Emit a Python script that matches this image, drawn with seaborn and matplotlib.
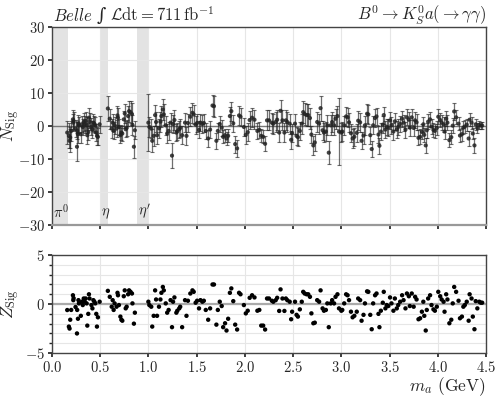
import numpy as np
import pandas as pd
import seaborn as sns
import matplotlib
matplotlib.use("Agg")
from matplotlib import pyplot as plt
from matplotlib.ticker import MultipleLocator
from matplotlib.offsetbox import TextArea, HPacker, AnchoredOffsetbox

# ---- data ----
mass = [
    0.159, 0.176, 0.183, 0.19, 0.2, 0.218, 0.222, 0.225, 0.245, 0.26,
    0.262, 0.27, 0.275, 0.28, 0.3, 0.31, 0.32, 0.33, 0.34, 0.35,
    0.36, 0.367, 0.377, 0.384, 0.39, 0.41, 0.42, 0.43, 0.44, 0.45,
    0.46, 0.467, 0.477, 0.495,
    0.58, 0.6, 0.62, 0.63, 0.64, 0.65, 0.67, 0.68, 0.685, 0.695,
    0.71, 0.72, 0.73, 0.745, 0.755, 0.765, 0.775, 0.79, 0.8, 0.815,
    0.83, 0.835, 0.85, 0.86,
    1.0, 1.01, 1.03, 1.04, 1.055, 1.07, 1.08, 1.09, 1.11, 1.125,
    1.135, 1.15, 1.16, 1.18, 1.195, 1.21, 1.23, 1.245, 1.256, 1.27,
    1.29, 1.3, 1.32, 1.33, 1.35, 1.38, 1.395, 1.41, 1.435, 1.457,
    1.47, 1.49, 1.505, 1.525, 1.54, 1.56, 1.575, 1.595, 1.62, 1.64,
    1.665, 1.68, 1.705, 1.72, 1.74, 1.76, 1.775, 1.795, 1.81, 1.827,
    1.845, 1.86, 1.88, 1.9, 1.92, 1.94, 1.955,
    1.99, 2.01, 2.03, 2.05, 2.075, 2.1, 2.13, 2.15, 2.17, 2.19,
    2.21, 2.23, 2.25, 2.28, 2.295, 2.32, 2.335, 2.356, 2.37, 2.39,
    2.41, 2.425, 2.44, 2.465, 2.48, 2.49, 2.52, 2.536, 2.55, 2.57,
    2.59, 2.605, 2.62, 2.64, 2.657, 2.675, 2.69, 2.71, 2.725, 2.75,
    2.77, 2.785, 2.806, 2.82, 2.84, 2.855, 2.87, 2.89, 2.905, 2.925,
    2.94, 2.96, 2.976, 3.0, 3.01, 3.03, 3.05, 3.065, 3.08, 3.1,
    3.117, 3.135, 3.16, 3.175, 3.195, 3.21, 3.23, 3.245, 3.267, 3.28,
    3.3, 3.315, 3.33, 3.35, 3.365, 3.385, 3.395, 3.41, 3.43, 3.44,
    3.457, 3.47, 3.487, 3.505, 3.52, 3.54, 3.555, 3.575, 3.59, 3.61,
    3.63, 3.645, 3.665, 3.68, 3.7, 3.71, 3.73, 3.75, 3.765, 3.78,
    3.8, 3.817, 3.835, 3.85, 3.86, 3.875, 3.886, 3.9, 3.92, 3.935,
    3.955, 3.97, 3.99, 4.005, 4.025, 4.04, 4.06, 4.07, 4.087, 4.1,
    4.12, 4.14, 4.155, 4.17, 4.19, 4.215, 4.23, 4.25, 4.265, 4.28,
    4.3, 4.32, 4.33, 4.35, 4.363, 4.38, 4.393, 4.41, 4.43, 4.445,
    4.46,
]

n_sig = [
    -2.0, -3.0, -4.5, -3.5, -1.5, 2.0, 1.0, 1.5, -0.8, -6.3,
    -1.5, -2.5, 0.8, 0.2, -2.5, 0.5, -0.3, 1.2, 0.5, 1.5,
    0.2, -2.8, -1.8, 2.5, 1.3, -0.2, -1.0, 1.0, 0.6, 0.2,
    -2.0, -3.0, -3.3, 0.5,
    5.3, 2.2, -0.8, 1.0, -1.5, 0.2, -0.8, 3.2, 2.5, -0.3,
    -2.8, -2.0, -2.3, 2.0, 3.8, -1.0, -0.6, 3.0, 4.5, 4.2,
    3.6, 0.3, -6.3, -1.3,
    1.0, -0.3, -0.8, -4.5, -3.0, 3.3, 1.2, -2.8, -0.7, 1.3,
    3.0, 5.0, 3.5, 0.2, -2.3, -1.5, 1.0, -9.0, 0.6, 1.8,
    -2.0, -1.6, -1.0, -0.6, -2.8, 1.0, -3.0, 0.9, 2.8, 4.0,
    3.5, 0.4, 0.9, -1.2, 1.0, 0.6, 0.9, -1.5, -3.8, -1.1,
    6.2, 6.0, -4.5, -1.5, 0.6, -0.5, -3.3, -2.8, -3.8, -3.0,
    3.0, 4.5, 0.8, -5.5, -6.8, 3.2, 2.8,
    -0.3, -2.7, -1.9, 1.8, 2.5, 1.9, -1.5, -1.2, -3.0, -3.3,
    -5.4, 1.7, 1.7, 1.0, 0.7, 1.2, 1.9, -2.0, 4.6, 1.7,
    -2.0, 1.7, 1.2, 0.7, -4.2, -2.2, 0.7, -3.0, -3.4, -1.5,
    0.7, 4.2, 3.6, 3.3, 3.3, 2.4, -2.6, -5.9, -5.0, 1.2,
    0.7, 5.4, -1.3, -2.0, -1.7, 0.2, -8.1, 0.2, 1.2, 0.2,
    2.2, 3.0, -1.7, -2.0, -1.7, 0.2, 2.9, 2.6, 1.1, -2.2,
    -3.8, -3.3, -2.1, 1.6, 1.1, -4.5, -2.9, 0.2, 3.7, 3.5,
    -2.8, -7.0, 0.2, 2.4, 2.9, -2.6, -6.0, -1.7, 0.4, 3.3,
    -1.1, -0.3, -0.5, 1.7, 0.2, -1.7, 1.4, -1.1, -0.3, 0.6,
    2.2, 1.0, -1.1, 2.6, 1.9, -0.5, 2.6, -0.6, 1.7, 1.1,
    -3.6, -3.3, -1.8, 0.5, -2.7, -5.9, -1.3, 1.3, 2.0, -0.2,
    -1.2, -1.5, -0.6, 2.8, 1.8, 1.0, 0.5, -1.7, 2.2, 1.0,
    -4.3, -3.4, 0.1, 4.4, 2.6, 0.7, -2.9, -2.5, -0.5, -0.2,
    0.4, -3.8, 1.9, 1.0, -2.3, -5.9, 0.5, -0.6, 0.3, 0.15,
    0.12,
]

n_err = [
    3.5, 3.8, 3.5, 3.2, 3.0, 2.8, 2.6, 2.8, 2.5, 4.2,
    2.6, 2.8, 2.5, 2.4, 2.6, 2.4, 2.5, 2.6, 2.5, 2.6,
    2.4, 2.8, 2.6, 3.0, 2.6, 2.5, 2.6, 2.5, 2.4, 2.4,
    2.5, 2.8, 2.6, 2.5,
    3.9, 3.0, 2.8, 2.6, 2.6, 2.5, 2.6, 2.8, 2.8, 2.5,
    2.3, 2.2, 2.2, 2.6, 2.8, 2.4, 2.4, 3.0, 3.2, 3.3,
    3.3, 3.0, 3.3, 2.8,
    8.7, 3.0, 3.0, 3.5, 3.0, 3.2, 3.0, 2.8, 2.8, 3.0,
    3.2, 3.3, 3.3, 2.8, 2.8, 2.8, 2.8, 3.9, 2.8, 3.0,
    2.6, 2.6, 2.6, 2.6, 2.8, 2.8, 2.8, 2.8, 2.9, 3.1,
    3.0, 2.7, 2.7, 2.6, 2.6, 2.6, 2.6, 2.5, 2.5, 2.5,
    3.2, 3.2, 2.4, 2.4, 2.5, 2.4, 2.0, 2.0, 1.9, 2.0,
    2.7, 2.9, 2.6, 2.6, 2.6, 2.8, 2.8,
    2.8, 2.8, 2.8, 2.8, 2.8, 2.8, 2.5, 2.5, 2.0, 2.0,
    2.3, 3.0, 3.0, 3.0, 3.0, 3.0, 3.0, 2.8, 3.4, 3.0,
    2.8, 3.0, 3.0, 3.0, 2.7, 2.8, 3.0, 2.7, 2.7, 2.8,
    3.0, 3.4, 3.3, 3.3, 3.3, 3.2, 2.7, 3.0, 2.6, 3.0,
    3.0, 3.8, 2.9, 2.9, 2.9, 3.0, 3.5, 3.0, 3.0, 3.0,
    3.0, 3.0, 10.1, 2.9, 2.9, 2.9, 2.9, 2.9, 2.9, 2.8,
    2.8, 2.8, 2.7, 2.8, 2.8, 2.6, 2.6, 2.8, 2.9, 2.8,
    2.6, 2.5, 2.7, 2.7, 2.7, 2.6, 2.5, 2.5, 2.6, 2.6,
    2.5, 2.5, 2.5, 2.5, 2.5, 2.5, 2.5, 2.5, 2.5, 2.5,
    2.4, 2.4, 2.4, 2.4, 2.4, 2.4, 2.4, 2.4, 2.4, 2.4,
    2.3, 2.3, 2.3, 2.2, 2.2, 2.2, 2.2, 2.2, 2.2, 2.2,
    2.2, 2.2, 2.2, 2.2, 2.2, 2.2, 2.2, 2.2, 2.2, 2.2,
    2.2, 2.1, 2.2, 2.5, 2.1, 2.0, 2.0, 2.0, 1.9, 1.9,
    1.8, 2.2, 1.9, 1.8, 1.8, 2.3, 1.6, 1.4, 1.2, 1.1,
    1.0,
]

z_sig = [
    -0.61, -2.3, -2.5, -1.6, -0.6, 0.9, 0.4, 0.6, -0.3, -3.0,
    -0.6, -1.5, 0.4, 0.07, -1.2, 0.24, -0.1, 0.57, 0.24, 0.57,
    0.07, -2.2, -1.0, 1.0, 0.57, -0.1, -0.44, 0.4, 0.24, 0.07,
    -1.0, -2.3, -1.35, 0.24,
    1.35, 0.74, -0.27, 0.4, -0.6, 0.07, -0.27, 1.15, 0.9, -0.1,
    -1.28, -1.6, -1.7, 0.8, 1.4, -0.44, -0.27, 1.0, 1.4, 1.25,
    1.08, 0.07, -2.0, -0.88,
    0.24, -0.1, -0.27, -2.3, -1.2, 1.4, 0.47, -1.2, -0.27, 0.47,
    1.15, 1.75, 1.4, 0.07, -0.88, -0.6, 0.4, -2.36, 0.24, 0.68,
    -0.88, -0.68, -0.44, -0.27, -2.36, 0.4, -1.2, 0.34, 1.08, 1.4,
    1.25, 0.14, 0.34, -0.44, 0.4, 0.24, 0.34, -0.6, -1.6, -0.44,
    2.0, 2.0, -2.1, -0.6, 0.24, -0.2, -2.36, -1.96, -2.7, -1.5,
    1.15, 1.6, 0.3, -2.1, -2.6, 1.15, 1.0,
    -0.1, -0.95, -0.68, 0.64, 0.9, 0.68, -0.68, -0.6, -2.2, -2.2,
    -2.6, 0.57, 0.57, 0.34, 0.24, 0.4, 0.64, -0.7, 1.5, 0.57,
    -0.7, 0.57, 0.4, 0.24, -1.55, -0.78, 0.24, -1.1, -1.28, -0.54,
    0.24, 1.25, 1.08, 1.0, 1.0, 0.74, -0.95, -1.96, -1.9, 0.4,
    0.24, 1.4, -0.44, -0.68, -0.6, 0.07, -2.36, 0.07, 0.4, 0.07,
    0.74, 1.0, -0.44, -0.68, -0.6, 0.07, 1.0, 0.9, 0.4, -0.78,
    -1.35, -1.2, -0.78, 0.57, 0.4, -1.7, -1.1, 0.07, 1.3, 1.25,
    -1.1, -2.57, 0.07, 0.9, 1.08, -1.0, -2.36, -0.68, 0.14, 1.25,
    -0.44, -0.1, -0.2, 0.68, 0.07, -0.68, 0.57, -0.44, -0.1, 0.24,
    0.9, 0.4, -0.44, 1.08, 0.8, -0.2, 1.08, -0.27, 0.74, 0.47,
    -1.55, -1.45, -0.78, 0.24, -1.2, -2.7, -0.6, 0.57, 0.9, -0.1,
    -0.54, -0.68, -0.27, 1.25, 0.8, 0.47, 0.24, -0.78, 1.0, 0.47,
    -1.96, -1.6, 0.07, 1.75, 1.25, 0.34, -1.45, -1.28, -0.27, -0.1,
    0.24, -1.7, 1.0, 0.57, -1.28, -2.57, 0.3, -0.44, 0.24, 0.14,
    0.14,
]

# vetoed peaking-background regions (GeV) and their labels
veto_lo = [0.0, 0.5, 0.88]
veto_hi = [0.163, 0.583, 1.0]
veto_labels = [r"$\pi^0$", r"$\eta$", r"$\eta'$"]

df = pd.DataFrame({"m": mass, "N": n_sig, "err": n_err, "Z": z_sig})

# ---- style ----
sns.set_theme(style="ticks")
plt.rcParams["font.family"] = "serif"
plt.rcParams["font.serif"] = ["cmr10", "DejaVu Serif"]
plt.rcParams["mathtext.fontset"] = "cm"
plt.rcParams["axes.formatter.use_mathtext"] = True
plt.rcParams["axes.unicode_minus"] = True

fig = plt.figure(figsize=(4.99, 3.98), dpi=100)
ax1 = fig.add_axes([0.104, 0.435, 0.870, 0.497])
ax2 = fig.add_axes([0.104, 0.113, 0.870, 0.246])

spine_col = "#444444"
grid_col = "#e6e6e6"

# top panel: fitted signal yield
for lo, hi, lab in zip(veto_lo, veto_hi, veto_labels):
    ax1.axvspan(lo, hi, color="#e3e3e3", lw=0, zorder=0)
    ax1.text(lo + 0.01, -28.8, lab, fontsize=10.5, ha="left", va="bottom")
ax1.axhline(0, color="#777777", lw=1.0, zorder=1)
ax1.errorbar(df["m"], df["N"], yerr=df["err"], fmt="none",
             ecolor="#222222", elinewidth=0.9, capsize=1.6, capthick=0.8,
             alpha=0.65, zorder=2)
sns.scatterplot(data=df, x="m", y="N", ax=ax1, color="#222222", s=9,
                marker="o", edgecolor="none", alpha=0.85, zorder=3, legend=False)
ax1.set_xlim(0, 4.5)
ax1.set_ylim(-30, 30)
ax1.xaxis.set_major_locator(MultipleLocator(0.5))
ax1.yaxis.set_major_locator(MultipleLocator(10))
ax1.tick_params(axis="x", labelbottom=False, length=3)
ax1.tick_params(axis="y", labelsize=10.5, length=3, pad=2)
ax1.grid(True, color=grid_col, lw=0.8, zorder=0)
ax1.set_axisbelow(True)
ax1.set_xlabel("")
ax1.set_ylabel(r"$N_{\rm Sig}$", fontsize=12.5)
ax1.yaxis.set_label_coords(-0.07, 0.5)
for sp in ax1.spines.values():
    sp.set_color(spine_col)
    sp.set_linewidth(1.0)
ax1.spines["bottom"].set_color("#999999")
ax1.spines["bottom"].set_linewidth(1.6)

# experiment label, built from pieces so the integral sign keeps text size
parts = [
    TextArea(r"$\mathit{Belle}$", textprops=dict(fontsize=12)),
    TextArea("∫", textprops=dict(fontsize=13, family="DejaVu Serif",
                                 fontstyle="italic")),
    TextArea(r"$\mathcal{L}\mathrm{dt} = 711\,\mathrm{fb}^{-1}$",
             textprops=dict(fontsize=12)),
]
label_box = HPacker(children=parts, align="baseline", pad=0, sep=3)
anchored = AnchoredOffsetbox(loc="lower left", child=label_box, pad=0,
                             borderpad=0, frameon=False,
                             bbox_to_anchor=(0.106, 1 - 25 / 398),
                             bbox_transform=fig.transFigure)
fig.add_artist(anchored)
fig.text(0.974, 1 - 20 / 398, r"$B^0\to K_S^0 a(\to\gamma\gamma)$",
         fontsize=12, ha="right", va="baseline")

# bottom panel: local significance
ax2.axhline(0, color="#aaaaaa", lw=1.6, zorder=1)
sns.scatterplot(data=df, x="m", y="Z", ax=ax2, color="black", s=10,
                edgecolor="none", zorder=3, legend=False)
ax2.set_xlim(0, 4.5)
ax2.set_ylim(-5, 5)
ax2.xaxis.set_major_locator(MultipleLocator(0.5))
ax2.yaxis.set_major_locator(MultipleLocator(5))
ax2.yaxis.set_minor_locator(MultipleLocator(1))
ax2.tick_params(axis="both", which="major", labelsize=10.5, length=3, pad=2)
ax2.tick_params(axis="y", which="minor", length=2, left=True)
ax2.grid(True, which="major", axis="x", color=grid_col, lw=0.8)
ax2.grid(True, which="both", axis="y", color=grid_col, lw=0.8)
ax2.set_axisbelow(True)
ax2.set_ylabel(r"$Z_{\rm Sig}$", fontsize=12.5)
ax2.yaxis.set_label_coords(-0.07, 0.5)
ax2.set_xlabel(r"$m_a$ (GeV)", fontsize=12.5, loc="right", labelpad=0)
for sp in ax2.spines.values():
    sp.set_color(spine_col)
    sp.set_linewidth(1.0)

fig.savefig("out.png", dpi=100)
